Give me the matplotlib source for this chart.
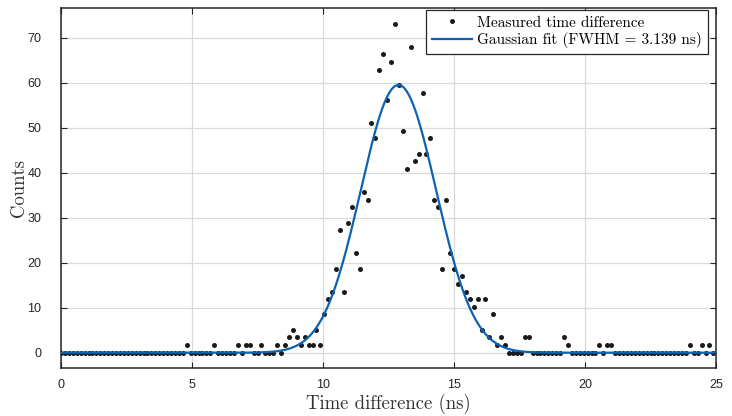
import matplotlib
matplotlib.use("Agg")

import matplotlib.pyplot as plt
import numpy as np

# histogram of measured time differences (bin width 0.15 ns, starting at 0 ns)
bin_width = 0.15
counts = [
    0, 0, 0, 0, 0, 0, 0, 0, 0, 0,
    0, 0, 0, 0, 0, 0, 0, 0, 0, 0,
    0, 0, 0, 0, 0, 0, 0, 0, 0, 0,
    0, 0, 1.7, 0, 0, 0, 0, 0, 0, 1.7,
    0, 0, 0, 0, 0, 1.7, 0, 1.7, 1.7, 0,
    0, 1.7, 0, 0, 0, 1.7, 0, 1.7, 3.4, 5.1,
    3.4, 1.7, 3.4, 1.7, 1.7, 5.1, 1.7, 8.5, 11.9, 13.6,
    18.7, 27.2, 13.6, 28.9, 32.3, 22.1, 18.7, 35.7, 34.0, 51.0,
    47.6, 62.9, 66.3, 56.1, 64.6, 73.1, 59.5, 49.3, 40.8, 68.0,
    42.5, 44.2, 57.8, 44.2, 47.6, 34.0, 32.3, 18.7, 34.0, 22.1,
    18.7, 15.3, 17.0, 13.6, 11.9, 10.2, 11.9, 5.1, 11.9, 3.4,
    8.5, 1.7, 3.4, 1.7, 0, 0, 0, 0, 3.4, 3.4,
    0, 0, 0, 0, 0, 0, 0, 0, 3.4, 1.7,
    0, 0, 0, 0, 0, 0, 0, 1.7, 0, 1.7,
    1.7, 0, 0, 0, 0, 0, 0, 0, 0, 0,
    0, 0, 0, 0, 0, 0, 0, 0, 0, 0,
    1.7, 0, 0, 1.7, 0, 1.7, 0,
]

# gaussian fit parameters (as drawn)
fit_amp = 59.5
fit_mu = 12.88
fit_sigma = 1.44
fwhm_label = 3.139

x_ticks = [0, 5, 10, 15, 20, 25]
y_ticks = [0, 10, 20, 30, 40, 50, 60, 70]

t = np.arange(len(counts)) * bin_width
t_fit = np.linspace(0, 25, 600)
y_fit = fit_amp * np.exp(-(t_fit - fit_mu) ** 2 / (2 * fit_sigma ** 2))

plt.rcParams["font.family"] = ["Liberation Sans", "DejaVu Sans"]
dark = "#262626"

fig = plt.figure(figsize=(7.32, 4.16), dpi=100)
ax = fig.add_axes([61 / 732, 48 / 416, 655 / 732, 360 / 416])

ax.plot(t, counts, "o", color="#1a1a1a", markersize=3.6, markeredgewidth=0,
        label="Measured time difference", zorder=3)
ax.plot(t_fit, y_fit, "-", color="#0c63b3", linewidth=1.6,
        label="Gaussian fit (FWHM = %.3f ns)" % fwhm_label, zorder=4)

ax.set_xlim(0, 25)
ax.set_ylim(-3.4, 76.6)
ax.set_xticks(x_ticks)
ax.set_yticks(y_ticks)
ax.grid(True, color="#dadada", linewidth=0.9)
ax.set_axisbelow(True)

ax.tick_params(direction="in", length=4, width=0.8, colors=dark,
               labelsize=9, top=True, right=True)
ax.tick_params(axis="x", pad=8)
ax.tick_params(axis="y", pad=14)
for s in ax.spines.values():
    s.set_color(dark)
    s.set_linewidth(1.1)

ax.set_xlabel("Time difference (ns)", fontfamily="cmr10", fontsize=13.5,
              color="#333333", labelpad=2)
ax.set_ylabel("Counts", fontfamily="cmr10", fontsize=13.5,
              color="#333333", labelpad=0)

leg = ax.legend(loc="upper right", bbox_to_anchor=(1 - 8 / 655, 1 - 2 / 360),
                borderaxespad=0, fancybox=False, framealpha=1,
                edgecolor=dark, prop={"family": "cmr10", "size": 11},
                handlelength=2.6, handletextpad=0.35, borderpad=0.4,
                labelspacing=0.15)
leg.get_frame().set_linewidth(0.9)

fig.savefig("out.png", dpi=100)
plt.close(fig)
